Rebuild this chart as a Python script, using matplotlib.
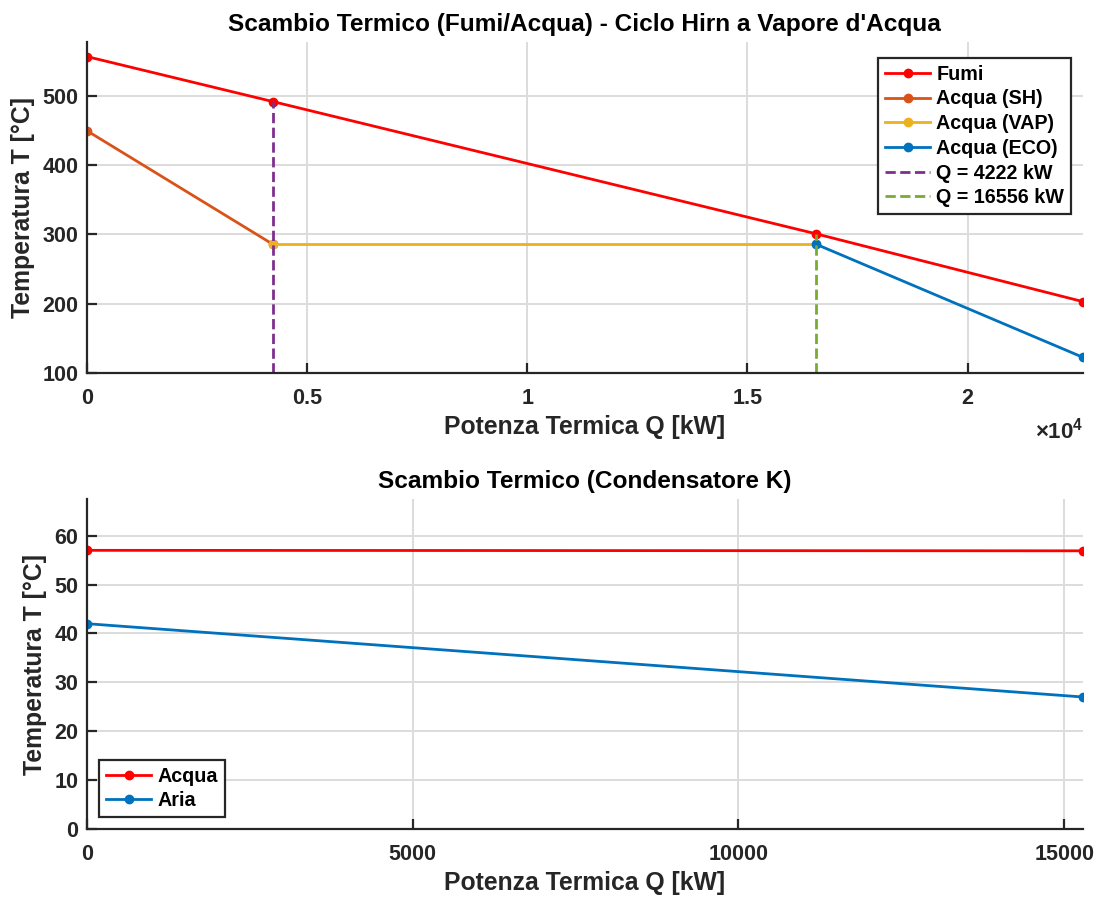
import matplotlib
matplotlib.use("Agg")
import matplotlib.pyplot as plt
from matplotlib.ticker import FuncFormatter, MultipleLocator

plt.rcParams['font.family'] = ['Liberation Sans', 'DejaVu Sans']
plt.rcParams['font.weight'] = 'bold'
plt.rcParams['mathtext.fontset'] = 'custom'
plt.rcParams['mathtext.rm'] = 'Liberation Sans'
plt.rcParams['mathtext.bf'] = 'Liberation Sans:bold'

# --- Heat exchange, flue gas / water (Hirn cycle) ---
q_fumi = [0, 4222, 16556, 22620]
t_fumi = [557, 492, 301, 203]
q_sh = [0, 4222]
t_sh = [450, 286]
q_vap = [4222, 16556]
t_vap = [286, 286]
q_eco = [16556, 22620]
t_eco = [286, 122.5]
q_marks = [4222, 16556]

# --- Condenser ---
q_cond = [0, 15290]
t_acqua = [57.0, 56.9]
t_aria = [42, 27]

C_RED = '#ff0000'
C_SH = '#D95319'
C_VAP = '#EDB120'
C_ECO = '#0072BD'
C_PUR = '#7E2F8E'
C_GRN = '#77AC30'
AX_COL = '#262626'

TICK_FS = 15.5
LABEL_FS = 17.8
TITLE_FS = 17.6
LEG_FS = 14.2

fig = plt.figure(figsize=(10.99, 8.97), dpi=100)
ax1 = fig.add_axes([0.0789, 0.5842, 0.9066, 0.369])
ax2 = fig.add_axes([0.0789, 0.0758, 0.9066, 0.3679])

lw = 2.0
ms = 6


def style(ax):
    for s in ('top', 'right'):
        ax.spines[s].set_visible(False)
    for s in ('left', 'bottom'):
        ax.spines[s].set_color(AX_COL)
        ax.spines[s].set_linewidth(1.6)
    ax.tick_params(direction='in', length=7, width=1.6, colors=AX_COL,
                   labelsize=TICK_FS)
    ax.tick_params(axis='x', pad=11)
    ax.tick_params(axis='y', pad=6)
    for lab in ax.get_xticklabels() + ax.get_yticklabels():
        lab.set_fontweight('bold')
    ax.grid(True, color='#dcdcdc', linewidth=1.4)
    ax.set_axisbelow(True)


def legend(ax, **kw):
    leg = ax.legend(fontsize=LEG_FS, handlelength=2.3, handletextpad=0.3,
                    borderpad=0.35, labelspacing=0.29, borderaxespad=0,
                    fancybox=False, framealpha=1, edgecolor=AX_COL, **kw)
    leg.get_frame().set_linewidth(1.6)
    for t in leg.get_texts():
        t.set_fontweight('bold')
    return leg


ax1.plot(q_fumi, t_fumi, '-o', color=C_RED, lw=lw, ms=ms, label='Fumi')
ax1.plot(q_sh, t_sh, '-o', color=C_SH, lw=lw, ms=ms, label='Acqua (SH)')
ax1.plot(q_vap, t_vap, '-o', color=C_VAP, lw=lw, ms=ms, label='Acqua (VAP)')
ax1.plot(q_eco, t_eco, '-o', color=C_ECO, lw=lw, ms=ms, label='Acqua (ECO)')
ax1.plot([q_marks[0]] * 2, [100, t_fumi[1]], '--', color=C_PUR, lw=lw,
         label=f'Q = {q_marks[0]} kW')
ax1.plot([q_marks[1]] * 2, [100, t_fumi[2]], '--', color=C_GRN, lw=lw,
         label=f'Q = {q_marks[1]} kW')
ax1.set_xlim(0, q_fumi[-1])
ax1.set_ylim(100, 578)
ax1.xaxis.set_major_locator(MultipleLocator(5000))
ax1.yaxis.set_major_locator(MultipleLocator(100))
ax1.xaxis.set_major_formatter(FuncFormatter(lambda v, p: f'{v/1e4:g}'))
style(ax1)
ax1.set_title("Scambio Termico (Fumi/Acqua) - Ciclo Hirn a Vapore d'Acqua",
              fontsize=TITLE_FS, fontweight='bold', color='black', pad=8)
ax1.set_xlabel('Potenza Termica Q [kW]', fontsize=LABEL_FS, fontweight='bold',
               color=AX_COL, labelpad=4)
ax1.set_ylabel('Temperatura T [°C]', fontsize=LABEL_FS, fontweight='bold',
               color=AX_COL, labelpad=5)
ax1.text(1.0, -0.175, r'$\times\mathregular{10^{4}}$', transform=ax1.transAxes,
         ha='right', va='center', fontsize=16, color=AX_COL)
legend(ax1, loc='upper right', bbox_to_anchor=(0.988, 0.952))

ax2.plot(q_cond, t_acqua, '-o', color=C_RED, lw=lw, ms=ms, label='Acqua')
ax2.plot(q_cond, t_aria, '-o', color=C_ECO, lw=lw, ms=ms, label='Aria')
ax2.set_xlim(0, q_cond[-1])
ax2.set_ylim(0, 67.5)
ax2.xaxis.set_major_locator(MultipleLocator(5000))
ax2.yaxis.set_major_locator(MultipleLocator(10))
style(ax2)
ax2.set_title('Scambio Termico (Condensatore K)', fontsize=TITLE_FS,
              fontweight='bold', color='black', pad=8)
ax2.set_xlabel('Potenza Termica Q [kW]', fontsize=LABEL_FS, fontweight='bold',
               color=AX_COL, labelpad=4)
ax2.set_ylabel('Temperatura T [°C]', fontsize=LABEL_FS, fontweight='bold',
               color=AX_COL, labelpad=5)
legend(ax2, loc='lower left', bbox_to_anchor=(0.0123, 0.036))

fig.savefig('out.png', dpi=100, facecolor='white')
